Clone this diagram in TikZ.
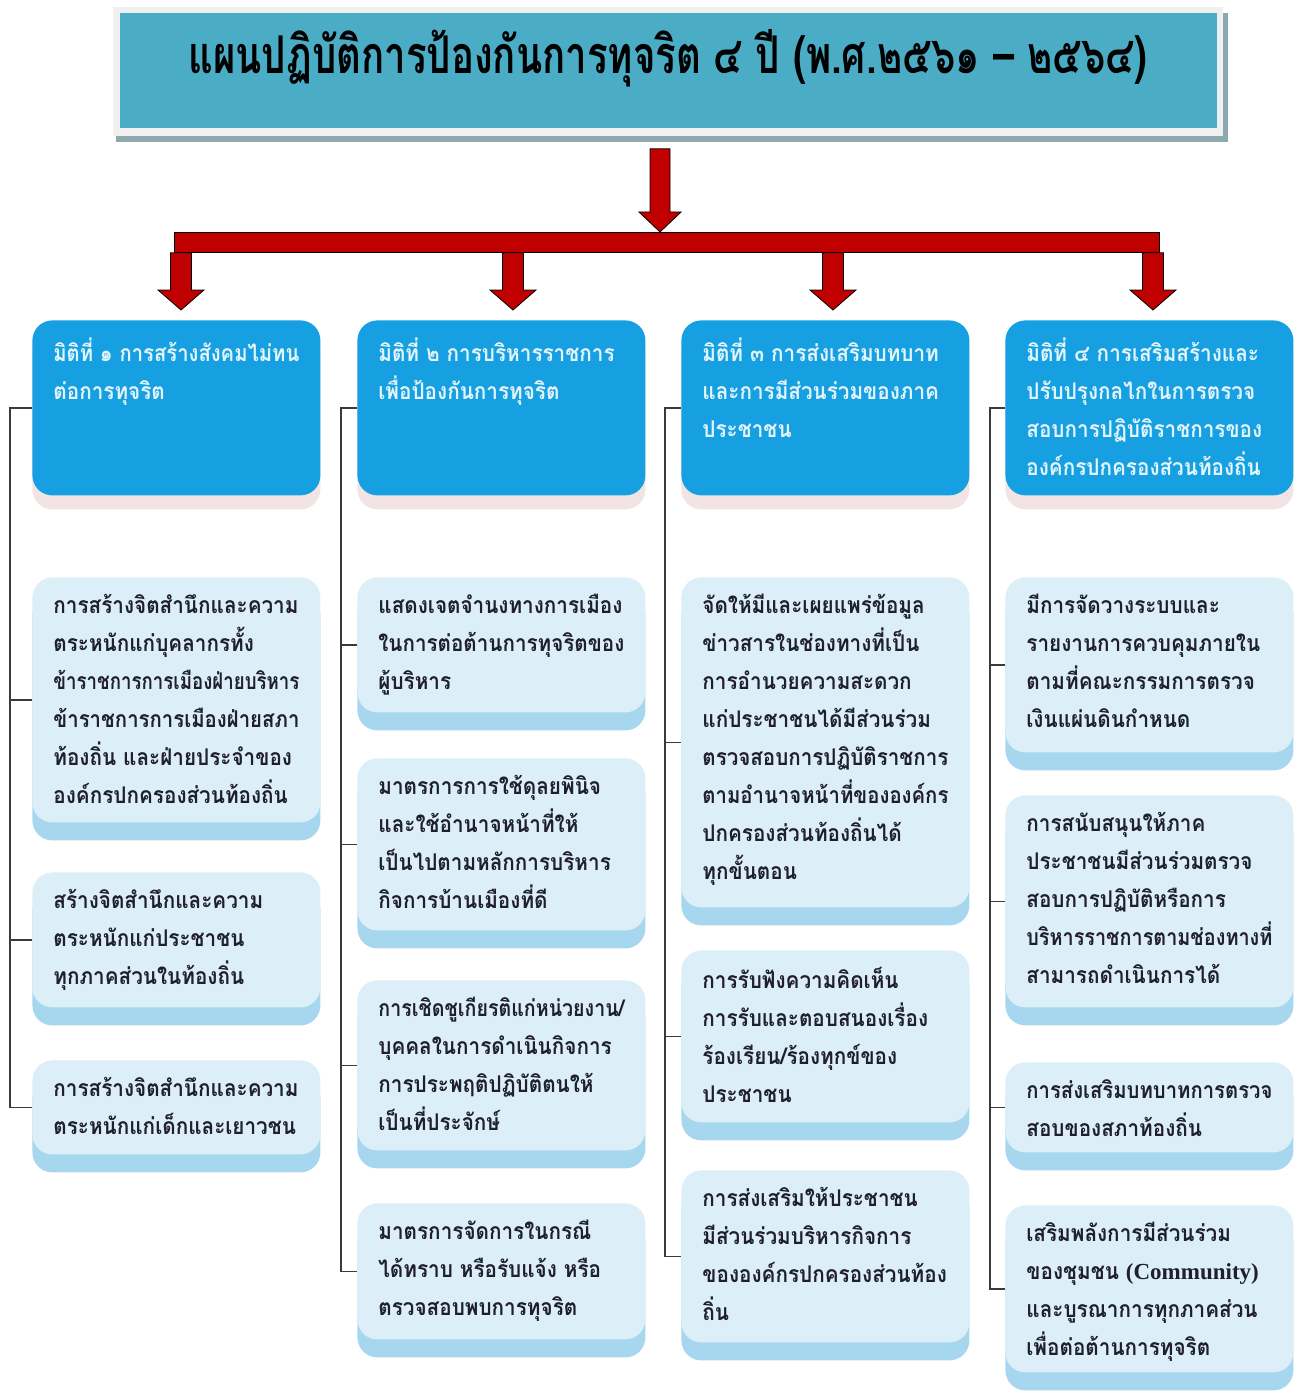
\documentclass[tikz,border=0pt]{standalone}
\usepackage{fontspec}
\usepackage{graphicx}
\newfontfamily\thai[Script=Thai, FakeStretch=0.9]{Loma}
\newfontfamily\latserif{Liberation Serif}
\usetikzlibrary{shadows,calc}
\definecolor{titlebg}{HTML}{4BACC6}
\definecolor{titleframe}{HTML}{F0F0F0}
\definecolor{titleshadow}{HTML}{8EA8B0}
\definecolor{barred}{HTML}{C00000}
\definecolor{hdrblue}{HTML}{16A0E1}
\definecolor{hdrshadow}{HTML}{F2E4E4}
\definecolor{hdrtext}{HTML}{E2F4FC}
\definecolor{subfill}{HTML}{DCEEF7}
\definecolor{bandc}{HTML}{A6D7EF}
\definecolor{bodyc}{HTML}{1F1F2E}
\definecolor{connc}{HTML}{3A3A3A}
\newsavebox\flbox
\newcommand\fl[1]{\sbox\flbox{#1}\ifdim\wd\flbox>123pt\resizebox{123pt}{\ht\flbox}{\usebox\flbox}\else\usebox\flbox\fi}
\tikzset{
  blockarr/.style={fill=barred, draw=black, line width=0.4pt, line join=miter},
  hdr/.style={rectangle, rounded corners=10pt, fill=hdrblue, minimum width=144pt, minimum height=87.5pt, inner sep=0pt, anchor=north west,
    drop shadow={shadow xshift=0pt, shadow yshift=-7pt, fill=hdrshadow, opacity=1}},
  sub/.style={rectangle, rounded corners=10pt, fill=subfill, minimum width=144pt, inner sep=0pt, anchor=north west,
    drop shadow={shadow xshift=0pt, shadow yshift=-9pt, fill=bandc, opacity=1}},
  hdrtxt/.style={anchor=north west, inner sep=0pt, align=left, text=hdrtext, font=\thai\bfseries\fontsize{11.5}{19}\selectfont},
  subtxt/.style={anchor=north west, inner sep=0pt, align=left, text=bodyc, font=\thai\bfseries\fontsize{11.5}{19}\selectfont},
  conn/.style={draw=connc, line width=0.8pt}
}
\newcommand\myblockarrow[5]{%
  \draw[blockarr] ($(#1)+(-#3,0)$) -- ($(#2)+(-#3,-#5)$) -- ($(#2)+(-#4,-#5)$) -- (#2)
    -- ($(#2)+(#4,-#5)$) -- ($(#2)+(#3,-#5)$) -- ($(#1)+(#3,0)$) -- cycle;}
\begin{document}
\begin{tikzpicture}[x=0.5pt,y=-0.5pt]
\useasboundingbox (0,0) rectangle (1300,1396);
% title
\fill[titleshadow] (116,13) rectangle (1228,142);
\fill[titleframe] (113,7) rectangle (1223,136);
\node[fill=titlebg, minimum width=548.5pt, minimum height=57.5pt, inner sep=0pt, anchor=north west] (title) at (120,13) {};
\node[font=\thai\bfseries\fontsize{26}{30}\selectfont, text=black, inner sep=0pt] (titlet) at (668,58)
  {\scalebox{0.82}[1]{แผนปฏิบัติการป้องกันการทุจริต ๔ ปี (พ.ศ.๒๕๖๑ – ๒๕๖๔)}};
% bar
\node[fill=barred, draw=black, line width=0.4pt, minimum width=492.5pt, minimum height=10pt, inner sep=0pt, anchor=north west] (bar) at (174,232) {};
% headers
\node[hdr] (h1) at (32,320) {};
\node[hdr] (h2) at (357,320) {};
\node[hdr] (h3) at (681,320) {};
\node[hdr] (h4) at (1005,320) {};
\node[hdrtxt] (h1t) at ($(h1.north west)+(21,17)$) {\fl{มิติที่ ๑ การสร้างสังคมไม่ทน}\\\fl{ต่อการทุจริต}};
\node[hdrtxt] (h2t) at ($(h2.north west)+(21,17)$) {\fl{มิติที่ ๒ การบริหารราชการ}\\\fl{เพื่อป้องกันการทุจริต}};
\node[hdrtxt] (h3t) at ($(h3.north west)+(21,17)$) {\fl{มิติที่ ๓ การส่งเสริมบทบาท}\\\fl{และการมีส่วนร่วมของภาค}\\\fl{ประชาชน}};
\node[hdrtxt] (h4t) at ($(h4.north west)+(21,17)$) {\fl{มิติที่ ๔ การเสริมสร้างและ}\\\fl{ปรับปรุงกลไกในการตรวจ}\\\fl{สอบการปฏิบัติราชการของ}\\\fl{องค์กรปกครองส่วนท้องถิ่น}};
% arrows
\path (660,0) coordinate (mx) (181,0) coordinate (x1) (513,0) coordinate (x2) (833,0) coordinate (x3) (1153,0) coordinate (x4);
\coordinate (a0s) at ($(title.south -| mx)+(0,20)$);
\coordinate (a0e) at (bar.north -| mx);
\myblockarrow{a0s}{a0e}{10}{21}{20}
\foreach \i in {1,2,3,4}{
  \coordinate (d\i s) at (bar.south -| x\i);
  \coordinate (d\i e) at ($(h\i.north -| x\i)+(0,-10)$);
  \myblockarrow{d\i s}{d\i e}{10.5}{23}{20}
}
% column 1
\node[sub, minimum height=122.5pt] (b11) at (32,577) {};
\node[sub, minimum height=67.5pt] (b12) at (32,872) {};
\node[sub, minimum height=47pt] (b13) at (32,1060) {};
\node[subtxt] (b11t) at ($(b11.north west)+(21,17)$) {\fl{การสร้างจิตสำนึกและความ}\\\fl{ตระหนักแก่บุคลากรทั้ง}\\\fl{ข้าราชการการเมืองฝ่ายบริหาร}\\\fl{ข้าราชการการเมืองฝ่ายสภา}\\\fl{ท้องถิ่น และฝ่ายประจำของ}\\\fl{องค์กรปกครองส่วนท้องถิ่น}};
\node[subtxt] (b12t) at ($(b12.north west)+(21,17)$) {\fl{สร้างจิตสำนึกและความ}\\\fl{ตระหนักแก่ประชาชน}\\\fl{ทุกภาคส่วนในท้องถิ่น}};
\node[subtxt] (b13t) at ($(b13.north west)+(21,17)$) {\fl{การสร้างจิตสำนึกและความ}\\\fl{ตระหนักแก่เด็กและเยาวชน}};
% column 2
\node[sub, minimum height=67.5pt] (b21) at (357,577) {};
\node[sub, minimum height=86pt] (b22) at (357,758) {};
\node[sub, minimum height=85pt] (b23) at (357,980) {};
\node[sub, minimum height=68pt] (b24) at (357,1203) {};
\node[subtxt] (b21t) at ($(b21.north west)+(21,17)$) {\fl{แสดงเจตจำนงทางการเมือง}\\\fl{ในการต่อต้านการทุจริตของ}\\\fl{ผู้บริหาร}};
\node[subtxt] (b22t) at ($(b22.north west)+(21,17)$) {\fl{มาตรการการใช้ดุลยพินิจ}\\\fl{และใช้อำนาจหน้าที่ให้}\\\fl{เป็นไปตามหลักการบริหาร}\\\fl{กิจการบ้านเมืองที่ดี}};
\node[subtxt] (b23t) at ($(b23.north west)+(21,17)$) {\fl{การเชิดชูเกียรติแก่หน่วยงาน/}\\\fl{บุคคลในการดำเนินกิจการ}\\\fl{การประพฤติปฏิบัติตนให้}\\\fl{เป็นที่ประจักษ์}};
\node[subtxt] (b24t) at ($(b24.north west)+(21,17)$) {\fl{มาตรการจัดการในกรณี}\\\fl{ได้ทราบ หรือรับแจ้ง หรือ}\\\fl{ตรวจสอบพบการทุจริต}};
% column 3
\node[sub, minimum height=165pt] (b31) at (681,577) {};
\node[sub, minimum height=86pt] (b32) at (681,950) {};
\node[sub, minimum height=86pt] (b33) at (681,1170) {};
\node[subtxt] (b31t) at ($(b31.north west)+(21,17)$) {\fl{จัดให้มีและเผยแพร่ข้อมูล}\\\fl{ข่าวสารในช่องทางที่เป็น}\\\fl{การอำนวยความสะดวก}\\\fl{แก่ประชาชนได้มีส่วนร่วม}\\\fl{ตรวจสอบการปฏิบัติราชการ}\\\fl{ตามอำนาจหน้าที่ขององค์กร}\\\fl{ปกครองส่วนท้องถิ่นได้}\\\fl{ทุกขั้นตอน}};
\node[subtxt] (b32t) at ($(b32.north west)+(21,17)$) {\fl{การรับฟังความคิดเห็น}\\\fl{การรับและตอบสนองเรื่อง}\\\fl{ร้องเรียน/ร้องทุกข์ของ}\\\fl{ประชาชน}};
\node[subtxt] (b33t) at ($(b33.north west)+(21,17)$) {\fl{การส่งเสริมให้ประชาชน}\\\fl{มีส่วนร่วมบริหารกิจการ}\\\fl{ขององค์กรปกครองส่วนท้อง}\\\fl{ถิ่น}};
% column 4
\node[sub, minimum height=87.5pt] (b41) at (1005,577) {};
\node[sub, minimum height=106pt] (b42) at (1005,795) {};
\node[sub, minimum height=45pt] (b43) at (1005,1062) {};
\node[sub, minimum height=83.5pt] (b44) at (1005,1205) {};
\node[subtxt] (b41t) at ($(b41.north west)+(21,17)$) {\fl{มีการจัดวางระบบและ}\\\fl{รายงานการควบคุมภายใน}\\\fl{ตามที่คณะกรรมการตรวจ}\\\fl{เงินแผ่นดินกำหนด}};
\node[subtxt] (b42t) at ($(b42.north west)+(21,17)$) {\fl{การสนับสนุนให้ภาค}\\\fl{ประชาชนมีส่วนร่วมตรวจ}\\\fl{สอบการปฏิบัติหรือการ}\\\fl{บริหารราชการตามช่องทางที่}\\\fl{สามารถดำเนินการได้}};
\node[subtxt] (b43t) at ($(b43.north west)+(21,17)$) {\fl{การส่งเสริมบทบาทการตรวจ}\\\fl{สอบของสภาท้องถิ่น}};
\node[subtxt] (b44t) at ($(b44.north west)+(21,17)$) {\fl{เสริมพลังการมีส่วนร่วม}\\\fl{ของชุมชน {\latserif\bfseries (Community)}}\\\fl{และบูรณาการทุกภาคส่วน}\\\fl{เพื่อต่อต้านการทุจริต}};
% connectors
\draw[conn] (h1.west) -- ++(-22,0) coordinate (v1) |- (b13.west);
\draw[conn] (v1) |- (b11.west);
\draw[conn] (v1) |- (b12.west);
\draw[conn] (h2.west) -- ++(-16,0) coordinate (v2) |- (b24.west);
\draw[conn] (v2) |- (b21.west);
\draw[conn] (v2) |- (b22.west);
\draw[conn] (v2) |- (b23.west);
\draw[conn] (h3.west) -- ++(-16,0) coordinate (v3) |- (b33.west);
\draw[conn] (v3) |- (b31.west);
\draw[conn] (v3) |- (b32.west);
\draw[conn] (h4.west) -- ++(-15,0) coordinate (v4) |- (b44.west);
\draw[conn] (v4) |- (b41.west);
\draw[conn] (v4) |- (b42.west);
\draw[conn] (v4) |- (b43.west);
\end{tikzpicture}
\end{document}
